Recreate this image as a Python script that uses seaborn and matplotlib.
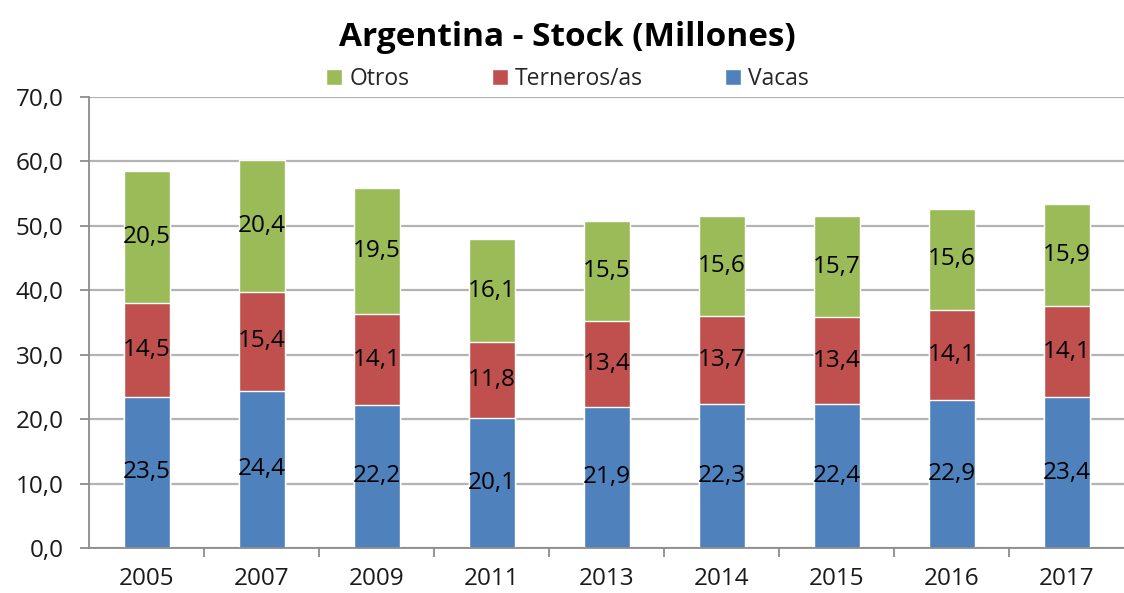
import matplotlib
matplotlib.use("Agg")
import matplotlib.pyplot as plt
import seaborn as sns
import pandas as pd
import numpy as np
from matplotlib.ticker import FuncFormatter, FixedLocator
from matplotlib.patches import Patch

years = ["2005", "2007", "2009", "2011", "2013", "2014", "2015", "2016", "2017"]
vacas = [23.5, 24.4, 22.2, 20.1, 21.9, 22.3, 22.4, 22.9, 23.4]
terneros = [14.5, 15.4, 14.1, 11.8, 13.4, 13.7, 13.4, 14.1, 14.1]
otros = [20.5, 20.4, 19.5, 16.1, 15.5, 15.6, 15.7, 15.6, 15.9]
series_names = ["Otros", "Terneros/as", "Vacas"]

c_blue = "#4F81BD"
c_red = "#C0504D"
c_green = "#9BBB59"

sns.set_theme(style="white")
plt.rcParams["font.family"] = ["Open Sans", "DejaVu Sans"]

df = pd.DataFrame({"year": years, "Vacas": vacas, "Terneros/as": terneros, "Otros": otros})
df["cum_vt"] = df["Vacas"] + df["Terneros/as"]
df["total"] = df["cum_vt"] + df["Otros"]

fig = plt.figure(figsize=(11.24, 5.93), dpi=100)
ax = fig.add_axes([0.0792, 0.0759, 0.9208, 0.7605])

sns.barplot(data=df, x="year", y="total", color=c_green, width=0.4, saturation=1, ax=ax, zorder=2)
sns.barplot(data=df, x="year", y="cum_vt", color=c_red, width=0.4, saturation=1, ax=ax, zorder=2)
sns.barplot(data=df, x="year", y="Vacas", color=c_blue, width=0.4, saturation=1, ax=ax, zorder=2)

for i in range(len(years)):
    v, t, o = vacas[i], terneros[i], otros[i]
    for val, center in ((v, v / 2), (t, v + t / 2), (o, v + t + o / 2)):
        ax.text(i, center, f"{val:.1f}".replace(".", ","), ha="center", va="center",
                fontsize=17.5, color="black", zorder=3)

ax.set_ylim(0, 70)
ax.set_xlim(-0.5, len(years) - 0.5)
ax.set_yticks(np.arange(0, 71, 10))
ax.yaxis.set_major_formatter(FuncFormatter(lambda y, p: f"{y:.1f}".replace(".", ",")))
ax.xaxis.set_minor_locator(FixedLocator(np.arange(0.5, len(years) - 0.5, 1.0)))
ax.set_xlabel("")
ax.set_ylabel("")

ax.grid(axis="y", color="#B3B3B3", linewidth=1.6, zorder=0)
ax.grid(axis="x", visible=False)
ax.set_axisbelow(True)
for s in ["top", "right"]:
    ax.spines[s].set_visible(False)
for s in ["left", "bottom"]:
    ax.spines[s].set_color("#8C8C8C")
    ax.spines[s].set_linewidth(1.3)

ax.tick_params(axis="y", which="major", left=True, length=6.5, width=1.3, color="#8C8C8C",
               labelsize=17.5, pad=12, labelcolor="#1a1a1a")
ax.tick_params(axis="x", which="major", bottom=False, length=0, labelsize=17.5, pad=14,
               labelcolor="#1a1a1a")
ax.tick_params(axis="x", which="minor", bottom=True, length=6.5, width=1.3, color="#8C8C8C")

fig.text(0.505, 0.937, "Argentina - Stock (Millones)", ha="center", va="center",
         fontsize=24, fontweight="bold", color="black")

handles = [Patch(facecolor=c_green), Patch(facecolor=c_red), Patch(facecolor=c_blue)]
fig.legend(handles, series_names, loc="center", bbox_to_anchor=(0.505, 0.866), ncol=3,
           frameon=False, fontsize=16.5, handlelength=0.7, handleheight=0.7,
           handletextpad=0.3, columnspacing=3.6, borderaxespad=0)

fig.savefig("out.png", dpi=100)
